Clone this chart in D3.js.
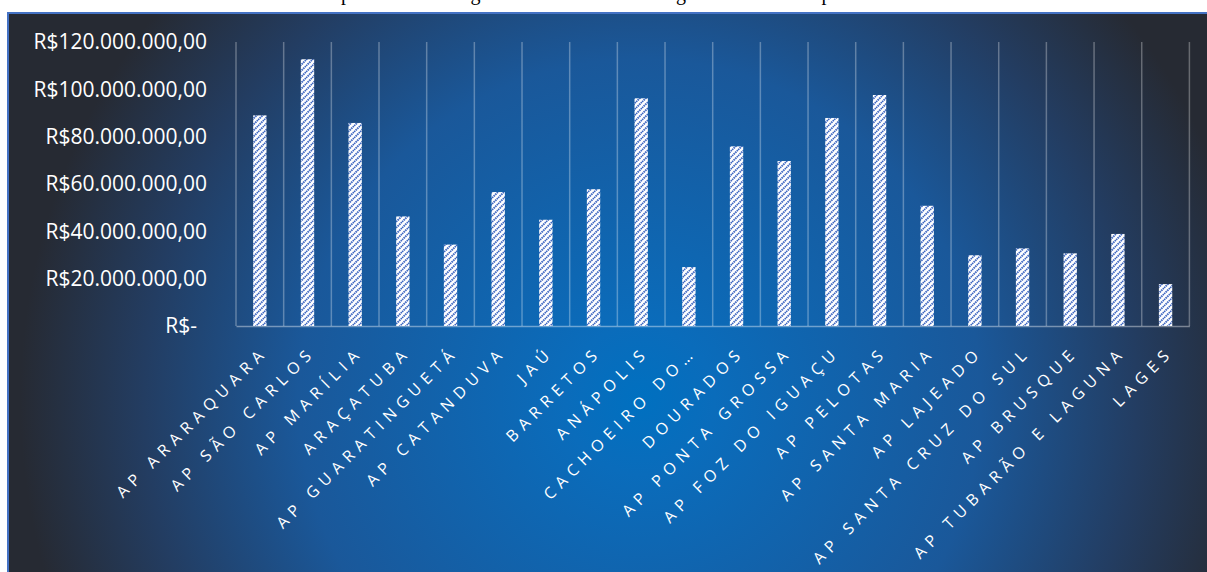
<!DOCTYPE html>
<html>
<head>
<meta charset="utf-8">
<script src="https://cdn.jsdelivr.net/npm/d3@7"></script>
<style>
  html, body { margin: 0; padding: 0; background: #ffffff; }
  svg { display: block; }
</style>
</head>
<body>
<svg id="chart" width="1207" height="572"></svg>
<script>
// Agências e valores (R$)
const categories = [
  "AP ARARAQUARA", "AP SÃO CARLOS", "AP MARÍLIA", "ARAÇATUBA", "AP GUARATINGUETÁ",
  "AP CATANDUVA", "JAÚ", "BARRETOS", "ANÁPOLIS", "CACHOEIRO DO…",
  "DOURADOS", "AP PONTA GROSSA", "AP FOZ DO IGUAÇU", "AP PELOTAS", "AP SANTA MARIA",
  "AP LAJEADO", "AP SANTA CRUZ DO SUL", "AP BRUSQUE", "AP TUBARÃO E LAGUNA", "LAGES"
];
const values = [
  89000000, 112700000, 85800000, 46300000, 34400000,
  56600000, 44900000, 57800000, 96200000, 24900000,
  75900000, 69700000, 87900000, 97600000, 50800000,
  29900000, 32800000, 30700000, 38900000, 17700000
];
const yTicks = [0, 20000000, 40000000, 60000000, 80000000, 100000000, 120000000];
const titleText = "Despesa anual total gerada nas unidades da região sul e sudeste por ano";

const svg = d3.select("#chart");
const defs = svg.append("defs");

// fundo: gradiente radial azul -> grafite
const grad = defs.append("radialGradient")
  .attr("id", "bg")
  .attr("gradientUnits", "userSpaceOnUse")
  .attr("cx", 640).attr("cy", 400).attr("r", 620);
[[0, "#0070c0"], [0.12, "#0a6cbb"], [0.55, "#1a589a"], [0.8, "#233d62"], [1, "#262a33"]]
  .forEach(([o, c]) => grad.append("stop").attr("offset", o).attr("stop-color", c));

// hachura diagonal das barras
const pat = defs.append("pattern")
  .attr("id", "hatch")
  .attr("patternUnits", "userSpaceOnUse")
  .attr("width", 6).attr("height", 6);
pat.append("rect").attr("width", 6).attr("height", 6).attr("fill", "#ffffff");
pat.append("path")
  .attr("d", "M0,6 L6,0 M-1.5,1.5 L1.5,-1.5 M4.5,7.5 L7.5,4.5")
  .attr("stroke", "#3f68c2").attr("stroke-width", 1.9)
  .attr("stroke-dasharray", "1.6,0.7");

// título (cortado no topo)
svg.append("text")
  .attr("x", 310).attr("y", 0)
  .attr("font-family", "'Liberation Serif', 'Times New Roman', serif")
  .attr("font-size", 20)
  .attr("fill", "#000")
  .text(titleText);

// área do gráfico
svg.append("rect")
  .attr("x", 8).attr("y", 13)
  .attr("width", 1202).attr("height", 562)
  .attr("fill", "url(#bg)")
  .attr("stroke", "#4472c4").attr("stroke-width", 2);

const x = d3.scaleBand().domain(categories).range([236, 1189.4]).padding(0);
const y = d3.scaleLinear().domain([0, 120000000]).range([326, 42]);
const bw = x.bandwidth();
const barW = bw * 0.28;

// linhas de grade verticais entre categorias
const edges = categories.map(c => x(c)).concat([x.range()[1]]);
svg.append("g").selectAll("line").data(edges).join("line")
  .attr("x1", d => d).attr("x2", d => d)
  .attr("y1", y(120000000)).attr("y2", y(0))
  .attr("stroke", "rgba(255,255,255,0.3)").attr("stroke-width", 1.5);

// eixo Y (somente rótulos)
const fmt = v => v === 0 ? "R$-" :
  "R$" + d3.format(",.2f")(v).replace(/,/g, "#").replace(/\./g, ",").replace(/#/g, ".");
const yAxis = svg.append("g")
  .attr("transform", "translate(207,0)")
  .call(d3.axisLeft(y).tickValues(yTicks).tickFormat(fmt).tickSize(0).tickPadding(0));
yAxis.select(".domain").remove();
yAxis.selectAll("text")
  .attr("font-family", "'Open Sans', sans-serif")
  .attr("font-size", 21)
  .attr("fill", "#ffffff")
  .attr("dx", d => d === 0 ? -10 : 0);

// barras
svg.append("g").selectAll("rect").data(values).join("rect")
  .attr("x", (d, i) => x(categories[i]) + (bw - barW) / 2)
  .attr("y", d => y(d))
  .attr("width", barW)
  .attr("height", d => y(0) - y(d))
  .attr("fill", "url(#hatch)");

// eixo X
const xAxis = svg.append("g")
  .attr("transform", "translate(0,326)")
  .call(d3.axisBottom(x).tickSize(0).tickFormat(""));
xAxis.select(".domain")
  .attr("stroke", "rgba(255,255,255,0.4)").attr("stroke-width", 1.5);

svg.append("g").selectAll("text").data(categories).join("text")
  .attr("transform", d => `translate(${x(d) + bw / 2 + 9},${353}) rotate(-45)`)
  .attr("text-anchor", "end")
  .attr("font-family", "'Open Sans', sans-serif")
  .attr("font-size", 16)
  .attr("letter-spacing", 6)
  .attr("fill", "#ffffff")
  .text(d => d);
</script>
</body>
</html>
